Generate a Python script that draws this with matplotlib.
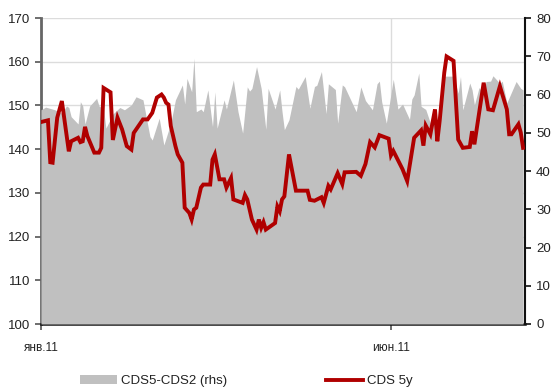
import matplotlib
matplotlib.use("Agg")
import matplotlib.pyplot as plt
import pandas as pd
from matplotlib.patches import Patch
from matplotlib.lines import Line2D

plt.rcParams['font.family'] = ['Liberation Sans', 'DejaVu Sans']

# ── Данные ───────────────────────────────────────────────────────────────────

# CDS5-CDS2 (rhs), б.п.
spread_dates = [
    "01-01", "01-03", "01-07", "01-10", "01-12", "01-13", "01-14", "01-17", "01-18", "01-19",
    "01-20", "01-22", "01-25", "01-26", "01-28", "01-29", "02-01", "02-04", "02-06", "02-09",
    "02-11", "02-14", "02-17", "02-18", "02-21", "02-23", "02-26", "02-28", "03-03", "03-04",
    "03-05", "03-07", "03-08", "03-09", "03-11", "03-12", "03-14", "03-16", "03-17", "03-18",
    "03-21", "03-22", "03-25", "03-27", "03-29", "03-31", "04-01", "04-02", "04-04", "04-06",
    "04-08", "04-09", "04-12", "04-14", "04-15", "04-16", "04-18", "04-21", "04-22", "04-25",
    "04-27", "04-29", "04-30", "05-02", "05-04", "05-05", "05-08", "05-09", "05-11", "05-12",
    "05-17", "05-19", "05-21", "05-24", "05-26", "05-27", "05-28", "05-30", "06-02", "06-04",
    "06-06", "06-09", "06-10", "06-11", "06-13", "06-14", "06-16", "06-18", "06-20", "06-21",
    "06-23", "06-28", "06-30", "07-01", "07-02", "07-05", "07-06", "07-07", "07-09", "07-11",
    "07-12", "07-14", "07-15", "07-18", "07-19", "07-21", "07-25", "07-27", "07-28",
]
spread_values = [
    56.0, 56.7, 56.0, 55.1, 57.0, 56.6, 54.2, 52.3, 58.1, 57.0,
    52.3, 57.0, 59.0, 57.0, 56.2, 51.2, 54.9, 56.6, 56.0, 57.3,
    59.4, 58.6, 49.0, 48.1, 53.8, 46.8, 52.5, 58.6, 62.5, 57.5,
    64.2, 60.7, 69.5, 55.5, 56.2, 55.5, 61.2, 51.6, 60.7, 51.2,
    58.6, 56.2, 63.8, 55.5, 49.9, 62.0, 60.9, 61.6, 67.3, 61.6,
    50.9, 61.6, 56.2, 61.2, 55.5, 50.8, 53.4, 62.1, 61.4, 64.7,
    56.4, 62.1, 62.4, 66.0, 55.0, 62.8, 61.3, 52.5, 62.5, 62.0,
    55.5, 62.0, 58.4, 56.0, 62.8, 63.5, 58.1, 52.5, 64.0, 56.2,
    57.5, 53.5, 58.8, 59.9, 65.6, 56.9, 56.1, 52.5, 55.6, 50.0,
    64.8, 64.8, 60.3, 64.7, 56.0, 63.0, 61.2, 57.3, 61.8, 60.2,
    63.4, 63.5, 64.9, 62.9, 63.5, 57.8, 63.4, 61.6, 61.2,
]

# CDS 5y, б.п.
cds_dates = [
    "01-01", "01-04", "01-05", "01-06", "01-08", "01-10", "01-13", "01-14", "01-17", "01-18",
    "01-19", "01-20", "01-21", "01-24", "01-26", "01-27", "01-28", "01-31", "02-01", "02-03",
    "02-05", "02-07", "02-09", "02-10", "02-14", "02-16", "02-18", "02-20", "02-22", "02-23",
    "02-24", "02-25", "02-26", "02-28", "03-01", "03-03", "03-04", "03-06", "03-07", "03-08",
    "03-09", "03-11", "03-12", "03-15", "03-16", "03-17", "03-19", "03-21", "03-22", "03-24",
    "03-25", "03-28", "03-29", "03-30", "03-31", "04-02", "04-04", "04-05", "04-06", "04-07",
    "04-08", "04-12", "04-13", "04-14", "04-15", "04-16", "04-18", "04-21", "04-26", "04-27",
    "04-29", "05-02", "05-03", "05-05", "05-06", "05-09", "05-11", "05-12", "05-17", "05-19",
    "05-21", "05-23", "05-25", "05-27", "05-31", "06-01", "06-02", "06-06", "06-08", "06-11",
    "06-14", "06-15", "06-16", "06-18", "06-20", "06-21", "06-22", "06-24", "06-25", "06-28",
    "06-30", "07-02", "07-05", "07-06", "07-07", "07-11", "07-13", "07-15", "07-18", "07-21",
    "07-22", "07-23", "07-26", "07-27", "07-28",
]
cds_values = [
    146.2, 146.6, 137.0, 136.9, 147.2, 151.0, 139.5, 141.8, 142.6, 141.6,
    141.8, 145.1, 143.0, 139.2, 139.2, 140.3, 154.0, 153.0, 142.1, 147.2,
    144.5, 140.7, 139.9, 143.7, 146.8, 146.8, 148.3, 151.8, 152.5, 151.8,
    150.6, 150.2, 145.3, 140.7, 138.8, 136.9, 126.6, 125.4, 123.9, 126.2,
    126.6, 131.2, 131.9, 131.9, 137.6, 138.8, 133.1, 133.1, 131.2, 133.4,
    128.5, 127.9, 127.7, 129.5, 128.5, 123.9, 121.6, 123.9, 122.0, 123.3,
    121.6, 123.1, 126.9, 125.8, 128.5, 129.2, 138.8, 130.5, 130.5, 128.4,
    128.2, 129.0, 127.7, 131.6, 130.8, 134.5, 132.0, 134.7, 134.8, 133.9,
    136.6, 141.6, 140.4, 143.2, 142.4, 138.6, 139.6, 135.4, 132.7, 142.6,
    144.3, 140.8, 145.4, 143.4, 149.1, 141.8, 146.4, 157.5, 161.2, 160.2,
    142.2, 140.3, 140.5, 144.1, 141.1, 155.2, 149.1, 148.9, 154.4, 149.1,
    143.4, 143.4, 145.7, 143.8, 140.3,
]

tick_dates = ["01-01", "06-01"]
tick_labels = ["янв.11", "июн.11"]

YEAR = "2011-"
to_dt = lambda lst: pd.to_datetime([YEAR + d for d in lst])

# ── График ───────────────────────────────────────────────────────────────────

GREY = "#c0c0c0"
RED = "#b00000"
TXT = "#222222"

fig = plt.figure(figsize=(5.51, 3.87), dpi=100)
ax = fig.add_axes([41 / 551, 1 - 324 / 387, 484 / 551, 306 / 387])

# левая ось: сетка
ax.set_ylim(100, 170)
ax.set_yticks(range(100, 171, 10))
ax.set_xlim(pd.Timestamp("2011-01-01"), pd.Timestamp("2011-07-28 20:00"))
ax.set_xticks(to_dt(tick_dates))
ax.set_xticklabels(tick_labels)
ax.grid(True, color="#dcdcdc", linewidth=1)
ax.set_axisbelow(True)

# правая ось: площадь спреда
ax2 = ax.twinx()
ax2.set_ylim(0, 80)
ax2.set_yticks(range(0, 81, 10))
ax2.fill_between(to_dt(spread_dates), spread_values, 0, color=GREY, linewidth=0)

# поверх — линия CDS 5y в шкале левой оси
ax3 = ax.twinx()
ax3.set_ylim(100, 170)
ax3.plot(to_dt(cds_dates), cds_values, color=RED, linewidth=2.8, solid_joinstyle="miter")
ax3.axis("off")

for a in (ax, ax2):
    a.spines["top"].set_visible(False)
ax.spines["left"].set_color("#666666")
ax.spines["left"].set_linewidth(2)
ax.spines["bottom"].set_color("#111111")
ax.spines["bottom"].set_linewidth(1.8)
ax.spines["right"].set_visible(False)
ax2.spines["left"].set_visible(False)
ax2.spines["bottom"].set_visible(False)
ax2.spines["right"].set_color("#111111")
ax2.spines["right"].set_linewidth(1.5)

ax.tick_params(axis="y", direction="out", length=4, width=1.2, color="#555555",
               labelsize=9.5, labelcolor=TXT, pad=4)
ax.tick_params(axis="x", direction="out", length=4, width=1.2, color="#555555",
               labelsize=8.5, labelcolor=TXT, pad=9)
ax2.tick_params(axis="y", direction="out", length=4, width=1.2, color="#111111",
                labelsize=9.5, labelcolor=TXT, pad=4)

handles = [Patch(facecolor=GREY, edgecolor="none"),
           Line2D([], [], color=RED, linewidth=2.8)]
fig.legend(handles, ["CDS5-CDS2 (rhs)", "CDS 5y"], loc="center",
           bbox_to_anchor=(246 / 551, 1 - 381 / 387), ncol=2, frameon=False,
           fontsize=9.5, handlelength=2.8, handletextpad=0.3, columnspacing=7.5,
           labelcolor=TXT)

fig.savefig("out.png", dpi=100)
